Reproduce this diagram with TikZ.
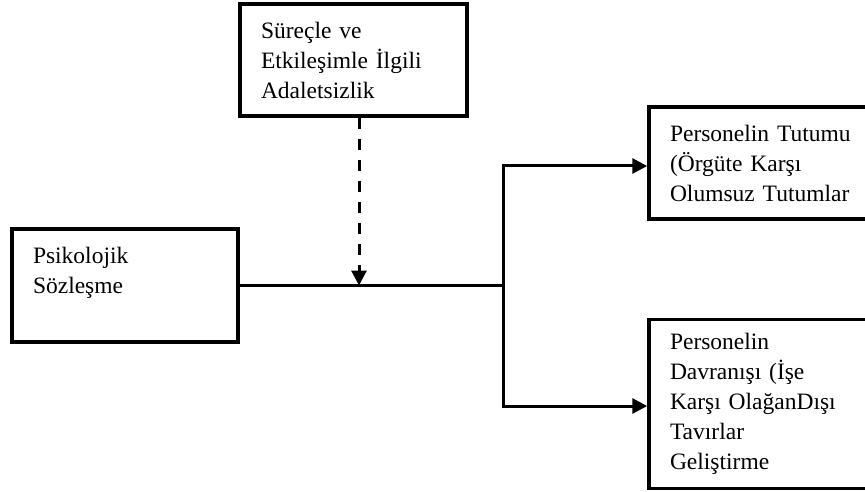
\documentclass[tikz,border=0pt]{standalone}
\usepackage{fontspec}
\setmainfont{Liberation Serif}
\usetikzlibrary{arrows.meta, positioning, calc}
\tikzstyle{box} = [rectangle, draw=black, line width=3.5pt, align=left, inner xsep=21pt, inner ysep=4pt, font=\fontsize{23.5}{30}\selectfont]
\tikzstyle{line} = [line width=3pt]
\tikzstyle{arrow} = [line width=3pt, -{Triangle[length=15pt,width=15pt]}]

\begin{document}
\begin{tikzpicture}[x=1pt, y=-1pt]
\useasboundingbox (0,0) rectangle (865,492);
\node (adalet) [box, minimum width=227pt, minimum height=112pt, text width=185pt] at (353.5,60) {Süreçle ve\\Etkileşimle İlgili\\Adaletsizlik};
\node (sozlesme) [box, minimum width=226pt, minimum height=113pt, text width=184pt] at (125,285.5) {Psikolojik\\Sözleşme\\\mbox{}};
\node (tutum) [box, minimum width=218pt, minimum height=112pt, text width=176pt] at (758,163) {\mbox{Personelin Tutumu}\\(Örgüte Karşı\\\mbox{Olumsuz Tutumlar}};
\node (davranis) [box, minimum width=218pt, minimum height=169pt, text width=176pt] at (758,404) {Personelin\\Davranışı (İşe\\\mbox{Karşı OlağanDışı}\\Tavırlar\\Geliştirme};
\coordinate (branch) at (503,285.5);
\coordinate (drop) at (359,285.5);

\draw [line] (sozlesme.east) -- (branch);
\draw [arrow] (branch) |- ([yshift=-3pt]tutum.west);
\draw [arrow] (branch) |- ([yshift=-2pt]davranis.west);
\draw [arrow, dash pattern=on 11pt off 10pt] (adalet.south -| drop) -- (drop);
\end{tikzpicture}
\end{document}
